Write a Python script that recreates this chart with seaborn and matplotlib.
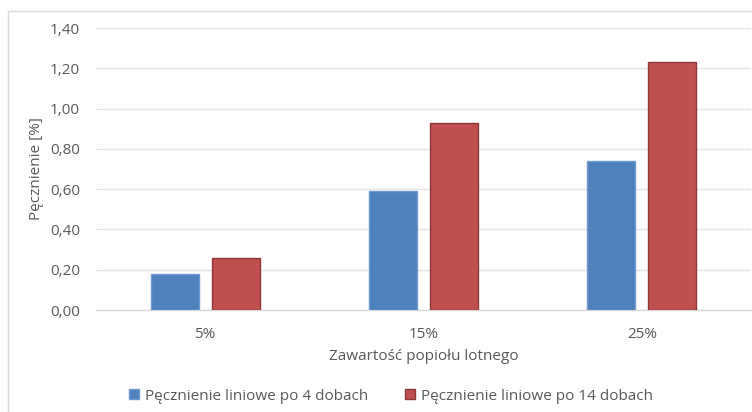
import matplotlib
matplotlib.use("Agg")
import matplotlib.pyplot as plt
import seaborn as sns
import pandas as pd
from matplotlib.patches import Rectangle
from matplotlib.ticker import FuncFormatter

# Data
categories = ["5%", "15%", "25%"]
series_names = ["Pęcznienie liniowe po 4 dobach", "Pęcznienie liniowe po 14 dobach"]
after_4_days = [0.18, 0.59, 0.74]
after_14_days = [0.26, 0.93, 1.23]
y_ticks = [0.0, 0.2, 0.4, 0.6, 0.8, 1.0, 1.2, 1.4]

df = pd.DataFrame({
    "kategoria": categories * 2,
    "seria": [series_names[0]] * 3 + [series_names[1]] * 3,
    "wartosc": after_4_days + after_14_days,
})

sns.set_theme(style="white")
plt.rcParams["font.family"] = ["Open Sans", "DejaVu Sans"]

text_color = "#595959"
grid_color = "#e3e3e3"
colors = ["#4f81bd", "#c0504d"]
edges = ["#6f9bd1", "#8c3836"]
fs = 11

W, H = 752, 412
fig = plt.figure(figsize=(W / 100, H / 100), dpi=100)
fig.patches.append(Rectangle((8 / W, -0.1), 1.2, 1 - 11 / H + 0.1, transform=fig.transFigure,
                             fill=False, edgecolor="#d9d9d9", linewidth=1.0, zorder=0))

ax = fig.add_axes([96 / W, 1 - 310 / H, (751 - 96) / W, (310 - 28) / H])
sns.barplot(data=df, x="kategoria", y="wartosc", hue="seria", order=categories,
            hue_order=series_names, palette=colors, width=0.56, gap=0.214,
            saturation=1, ax=ax, legend=False, zorder=3)

for container, ec in zip(ax.containers, edges):
    for bar in container:
        bar.set_edgecolor(ec)
        bar.set_linewidth(1.0)

ax.set_xlim(-0.5, 2.5)
ax.set_ylim(0, 1.4)
ax.set_yticks(y_ticks)
ax.yaxis.set_major_formatter(FuncFormatter(lambda v, p: f"{v:.2f}".replace(".", ",")))
ax.grid(axis="y", color=grid_color, linewidth=1.0, zorder=0)
for s in ["top", "right", "left"]:
    ax.spines[s].set_visible(False)
ax.spines["bottom"].set_color("#d9d9d9")
ax.spines["bottom"].set_linewidth(1.0)
ax.tick_params(axis="both", length=0, colors=text_color, labelsize=fs)
ax.tick_params(axis="y", pad=11.5)
ax.tick_params(axis="x", pad=12)
ax.set_xlabel("Zawartość popiołu lotnego", color=text_color, fontsize=fs, labelpad=5)
ax.set_ylabel("Pęcznienie [%]", color=text_color, fontsize=fs, labelpad=4)

handles = [Rectangle((0, 0), 1, 1, facecolor=c, edgecolor=e) for c, e in zip(colors, edges)]
leg = fig.legend(handles, series_names, loc="center", bbox_to_anchor=(391 / W, 1 - 396 / H),
                 ncol=2, frameon=False, fontsize=fs, handlelength=0.65, handleheight=0.65,
                 handletextpad=0.4, columnspacing=2.4)
for t in leg.get_texts():
    t.set_color(text_color)

fig.savefig("out.png", dpi=100)
